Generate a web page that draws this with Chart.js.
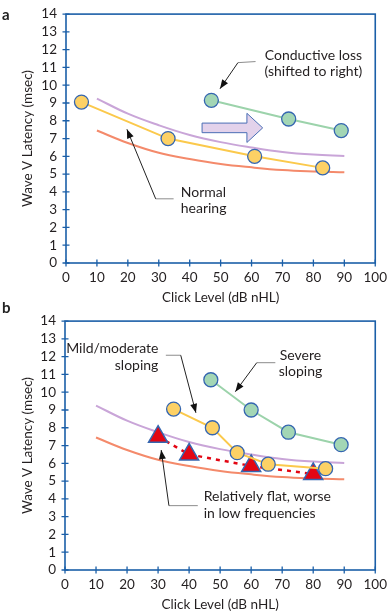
<!DOCTYPE html>
<html lang="en">
<head>
<meta charset="UTF-8">
<title>Wave V latency</title>
<script src="https://cdn.jsdelivr.net/npm/chart.js"></script>
<style>
  body { margin: 0; background: #fff; width: 391px; height: 615px; position: relative; overflow: hidden; }
  .panel { position: absolute; left: 0; width: 391px; }
  #wrapA { top: 0; height: 307px; }
  #wrapB { top: 307px; height: 308px; }
  .tag { position: absolute; left: 2px; font: bold 15px Lato, sans-serif; line-height: 15px; color: #222; }
</style>
</head>
<body>
<div class="panel" id="wrapA"><canvas id="chartA" width="391" height="307"></canvas></div>
<div class="panel" id="wrapB"><canvas id="chartB" width="391" height="308"></canvas></div>
<div class="tag" style="top:7px">a</div>
<div class="tag" style="top:300px">b</div>
<script>
// --- data ---
const xTickValues = [0, 10, 20, 30, 40, 50, 60, 70, 80, 90, 100];
const yTickValues = [0, 1, 2, 3, 4, 5, 6, 7, 8, 9, 10, 11, 12, 13, 14];

// normal range curves
const curveLevels = [10, 20, 30, 40, 50, 60, 70, 80, 90];
const normalUpper = [9.25, 8.4, 7.75, 7.2, 6.8, 6.5, 6.25, 6.1, 6.02];
const normalLower = [7.45, 6.75, 6.2, 5.85, 5.57, 5.38, 5.23, 5.15, 5.1];

// panel a
const normalLevels = [5, 33, 61, 83];
const normalLatency = [9.05, 7.0, 6.0, 5.35];
const conductiveLevels = [47, 72, 89];
const conductiveLatency = [9.15, 8.1, 7.45];

// panel b
const mildLevels = [35, 47.5, 55.5, 65.5, 84];
const mildLatency = [9.05, 8.0, 6.6, 5.95, 5.7];
const severeLevels = [47, 60, 72, 89];
const severeLatency = [10.7, 9.0, 7.75, 7.05];
const flatLevels = [30, 40, 60, 80];
const flatLatency = [7.5, 6.5, 5.85, 5.4];

// --- styles ---
const BLUE = '#1b5fa8';
const TEXT = '#231f20';
const FONT = 'Lato, sans-serif';
const YELLOW_FILL = '#fdd165', YELLOW_LINE = '#fbc94c';
const GREEN_FILL = '#a3d6b5', GREEN_LINE = '#9cd3ab';
const PURPLE = '#c9a5d8', ORANGE = '#f48a6b', RED = '#e30613';
const DOT_EDGE = '#3566b0';

function pts(xs, ys) {
    return xs.map((x, i) => ({ x: x, y: ys[i] }));
}

function curve(values, color) {
    return { data: pts(curveLevels, values), borderColor: color, borderWidth: 2, pointRadius: 0, tension: 0.4, fill: false };
}

function dots(xs, ys, fill, line) {
    return {
        data: pts(xs, ys), borderColor: line, borderWidth: 2, tension: 0,
        pointRadius: 7, pointBackgroundColor: fill, pointBorderColor: DOT_EDGE, pointBorderWidth: 1.3
    };
}

// annotations (in chart units)
const notesA = {
    texts: [
        { lines: ['Conductive loss', '(shifted to right)'], x: 80, y: [11.69, 10.78], align: 'center' },
        { lines: ['Normal', 'hearing'], x: 37.1, y: [3.98, 3.07], align: 'left' }
    ],
    leaders: [
        { start: [61.3, 11.33], bend: [55.6, 11.27], tip: [49.8, 9.8] },
        { start: [34.8, 3.61], bend: [29.0, 3.61], tip: [19.7, 7.52] }
    ],
    shift: { x0: 44, x1: 58.5, x2: 63.6, y: 7.6, body: 0.27, head: 0.82 }
};

const notesB = {
    texts: [
        { lines: ['Mild/moderate', 'sloping'], x: 30.1, y: [12.48, 11.53], align: 'right' },
        { lines: ['Severe', 'sloping'], x: 75.9, y: [12.08, 11.16], align: 'center' },
        { lines: ['Relatively flat, worse', 'in low frequencies'], x: 44.7, y: [4.12, 3.2], align: 'left' }
    ],
    leaders: [
        { start: [32.5, 12.08], bend: [37.3, 12.08], tip: [42.2, 8.84] },
        { start: [67.8, 11.66], bend: [61.8, 11.66], tip: [54.9, 10.03] },
        { start: [42.8, 3.62], bend: [33.5, 3.62], tip: [31.0, 6.75] }
    ]
};

// frame + ticks crossing the axes
const framePlugin = {
    id: 'frame',
    beforeDatasetsDraw(chart) {
        const { ctx, chartArea: a, scales } = chart;
        ctx.save();
        ctx.strokeStyle = BLUE;
        ctx.lineWidth = 1.6;
        ctx.strokeRect(a.left, a.top, a.right - a.left, a.bottom - a.top);
        ctx.lineWidth = 1.3;
        ctx.beginPath();
        xTickValues.forEach(v => {
            const px = scales.x.getPixelForValue(v);
            ctx.moveTo(px, a.bottom - 3.5);
            ctx.lineTo(px, a.bottom + 3.5);
        });
        yTickValues.forEach(v => {
            const py = scales.y.getPixelForValue(v);
            ctx.moveTo(a.left - 3.5, py);
            ctx.lineTo(a.left + 3.5, py);
        });
        ctx.stroke();
        ctx.restore();
    }
};

const notePlugin = {
    id: 'notes',
    afterDatasetsDraw(chart, args, opts) {
        const notes = opts.notes;
        if (!notes) return;
        const { ctx, scales } = chart;
        const P = (x, y) => [scales.x.getPixelForValue(x), scales.y.getPixelForValue(y)];
        ctx.save();

        if (notes.shift) {
            const s = notes.shift;
            const c = [
                P(s.x0, s.y + s.body), P(s.x1, s.y + s.body), P(s.x1, s.y + s.head), P(s.x2, s.y),
                P(s.x1, s.y - s.head), P(s.x1, s.y - s.body), P(s.x0, s.y - s.body)
            ];
            ctx.beginPath();
            c.forEach((p, i) => i ? ctx.lineTo(p[0], p[1]) : ctx.moveTo(p[0], p[1]));
            ctx.closePath();
            ctx.fillStyle = '#e3d2eb';
            ctx.fill();
            ctx.strokeStyle = '#4a6fb5';
            ctx.lineWidth = 1;
            ctx.stroke();
        }

        notes.leaders.forEach(l => {
            const s = P(l.start[0], l.start[1]), b = P(l.bend[0], l.bend[1]), t = P(l.tip[0], l.tip[1]);
            ctx.lineWidth = 1;
            ctx.strokeStyle = '#8c8c8c';
            ctx.beginPath();
            ctx.moveTo(s[0], s[1]);
            ctx.lineTo(b[0], b[1]);
            ctx.stroke();
            ctx.strokeStyle = '#222';
            ctx.beginPath();
            ctx.moveTo(b[0], b[1]);
            ctx.lineTo(t[0], t[1]);
            ctx.stroke();
            // arrow head
            const ang = Math.atan2(t[1] - b[1], t[0] - b[0]);
            const len = 9, half = 3.5;
            ctx.fillStyle = '#111';
            ctx.beginPath();
            ctx.moveTo(t[0], t[1]);
            ctx.lineTo(t[0] - len * Math.cos(ang) + half * Math.sin(ang), t[1] - len * Math.sin(ang) - half * Math.cos(ang));
            ctx.lineTo(t[0] - len * Math.cos(ang) - half * Math.sin(ang), t[1] - len * Math.sin(ang) + half * Math.cos(ang));
            ctx.closePath();
            ctx.fill();
        });

        ctx.fillStyle = TEXT;
        ctx.font = '14px ' + FONT;
        ctx.textBaseline = 'middle';
        notes.texts.forEach(n => {
            ctx.textAlign = n.align;
            n.lines.forEach((line, i) => {
                const p = P(n.x, n.y[i]);
                ctx.fillText(line, p[0], p[1]);
            });
        });
        ctx.restore();
    }
};

function makeOptions(lay, notes) {
    const tickFont = { family: FONT, size: 13.5 };
    const titleFont = { family: FONT, size: 13.5 };
    return {
        responsive: false,
        animation: false,
        layout: { padding: { top: lay.top, right: lay.right, left: 0, bottom: 0 } },
        plugins: { legend: { display: false }, tooltip: { enabled: false }, notes: { notes: notes } },
        scales: {
            x: {
                type: 'linear', min: 0, max: 100,
                afterBuildTicks: s => { s.ticks = xTickValues.map(v => ({ value: v })); },
                afterFit: s => { s.height = lay.xH; },
                grid: { display: false, drawTicks: true, tickLength: 3 },
                border: { display: false },
                ticks: { color: TEXT, font: tickFont, padding: 4, maxRotation: 0, autoSkip: false },
                title: { display: true, text: 'Click Level (dB nHL)', color: TEXT, font: titleFont, padding: { top: 0, bottom: lay.xTitle } }
            },
            y: {
                min: 0, max: 14,
                afterBuildTicks: s => { s.ticks = yTickValues.map(v => ({ value: v })); },
                afterFit: s => { s.width = lay.yW; },
                grid: { display: false, drawTicks: true, tickLength: 3 },
                border: { display: false },
                ticks: { color: TEXT, font: tickFont, padding: 6, autoSkip: false },
                title: { display: true, text: 'Wave V Latency (msec)', color: TEXT, font: titleFont, padding: { top: 20, bottom: 0 } }
            }
        }
    };
}

new Chart(document.getElementById('chartA'), {
    type: 'line',
    data: {
        datasets: [
            dots(conductiveLevels, conductiveLatency, GREEN_FILL, GREEN_LINE),
            dots(normalLevels, normalLatency, YELLOW_FILL, YELLOW_LINE),
            curve(normalUpper, PURPLE),
            curve(normalLower, ORANGE)
        ]
    },
    options: makeOptions({ top: 6, right: 12, xH: 44, yW: 66, xTitle: 1 }, notesA),
    plugins: [framePlugin, notePlugin]
});

const flatSet = {
    data: pts(flatLevels, flatLatency),
    borderColor: RED, borderWidth: 2.5, borderDash: [4, 5], tension: 0,
    pointStyle: 'triangle', pointRadius: 11,
    pointBackgroundColor: RED, pointBorderColor: DOT_EDGE, pointBorderWidth: 1.5
};

new Chart(document.getElementById('chartB'), {
    type: 'line',
    data: {
        datasets: [
            dots(mildLevels, mildLatency, YELLOW_FILL, YELLOW_LINE),
            flatSet,
            dots(severeLevels, severeLatency, GREEN_FILL, GREEN_LINE),
            curve(normalUpper, PURPLE),
            curve(normalLower, ORANGE)
        ]
    },
    options: makeOptions({ top: 8, right: 13, xH: 45, yW: 65, xTitle: 2 }, notesB),
    plugins: [framePlugin, notePlugin]
});
</script>
</body>
</html>
